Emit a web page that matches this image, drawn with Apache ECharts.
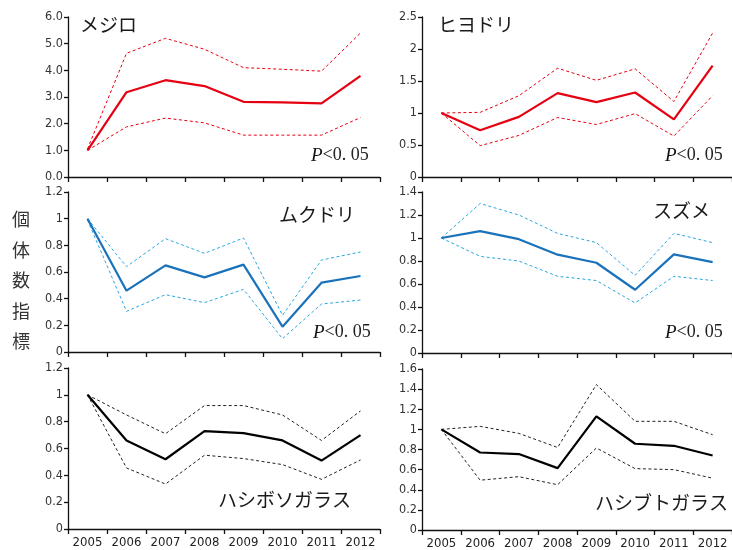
<!DOCTYPE html>
<html>
<head>
<meta charset="utf-8">
<script src="https://cdn.jsdelivr.net/npm/echarts@6/dist/echarts.min.js"></script>
<style>
  html, body { margin: 0; padding: 0; background: #fff; }
  #chart { width: 732px; height: 550px; }
</style>
</head>
<body>
<div id="chart"></div>
<script>
// Survey years
const years = ['2005', '2006', '2007', '2008', '2009', '2010', '2011', '2012'];

// メジロ: index with upper / lower confidence bounds
const mejiroMean  = [1.0, 3.18, 3.63, 3.41, 2.82, 2.80, 2.76, 3.79];
const mejiroUpper = [1.05, 4.64, 5.20, 4.79, 4.10, 4.04, 3.97, 5.40];
const mejiroLower = [1.0, 1.88, 2.21, 2.03, 1.57, 1.57, 1.57, 2.23];

// ヒヨドリ
const hiyodoriMean  = [1.0, 0.73, 0.94, 1.31, 1.17, 1.32, 0.90, 1.74];
const hiyodoriUpper = [1.0, 1.01, 1.27, 1.70, 1.51, 1.69, 1.18, 2.25];
const hiyodoriLower = [1.0, 0.49, 0.65, 0.93, 0.82, 0.99, 0.64, 1.27];

// ムクドリ
const mukudoriMean  = [1.0, 0.46, 0.65, 0.56, 0.655, 0.19, 0.52, 0.57];
const mukudoriUpper = [1.0, 0.64, 0.85, 0.74, 0.855, 0.275, 0.69, 0.75];
const mukudoriLower = [0.99, 0.305, 0.43, 0.37, 0.47, 0.10, 0.36, 0.39];

// スズメ
const suzumeMean  = [1.0, 1.06, 0.99, 0.855, 0.785, 0.55, 0.858, 0.79];
const suzumeUpper = [1.0, 1.30, 1.20, 1.04, 0.96, 0.675, 1.04, 0.96];
const suzumeLower = [1.0, 0.84, 0.80, 0.667, 0.63, 0.435, 0.667, 0.63];

// ハシボソガラス
const hashibosoMean  = [1.0, 0.66, 0.52, 0.73, 0.715, 0.66, 0.51, 0.70];
const hashibosoUpper = [1.0, 0.85, 0.71, 0.92, 0.92, 0.85, 0.66, 0.88];
const hashibosoLower = [1.0, 0.455, 0.335, 0.55, 0.525, 0.48, 0.37, 0.515];

// ハシブトガラス
const hashibutoMean  = [1.0, 0.77, 0.755, 0.615, 1.13, 0.857, 0.837, 0.74];
const hashibutoUpper = [1.0, 1.03, 0.96, 0.82, 1.445, 1.08, 1.08, 0.947];
const hashibutoLower = [1.0, 0.495, 0.53, 0.45, 0.815, 0.61, 0.60, 0.515];

// Y axis ranges per panel: [max, interval]
const yRanges = [[6, 1], [2.5, 0.5], [1.2, 0.2], [1.4, 0.2], [1.2, 0.2], [1.6, 0.2]];

const RED = '#e60012', BLUE = '#1a72bb', LIGHTBLUE = '#2aa8e0', BLACK = '#000000';

const panels = [
  { name: 'メジロ',       mean: mejiroMean,    upper: mejiroUpper,    lower: mejiroLower,    color: RED,   band: RED },
  { name: 'ヒヨドリ',     mean: hiyodoriMean,  upper: hiyodoriUpper,  lower: hiyodoriLower,  color: RED,   band: RED },
  { name: 'ムクドリ',     mean: mukudoriMean,  upper: mukudoriUpper,  lower: mukudoriLower,  color: BLUE,  band: LIGHTBLUE },
  { name: 'スズメ',       mean: suzumeMean,    upper: suzumeUpper,    lower: suzumeLower,    color: BLUE,  band: LIGHTBLUE },
  { name: 'ハシボソガラス', mean: hashibosoMean, upper: hashibosoUpper, lower: hashibosoLower, color: BLACK, band: '#222' },
  { name: 'ハシブトガラス', mean: hashibutoMean, upper: hashibutoUpper, lower: hashibutoLower, color: BLACK, band: '#222' }
];

// Grid placement (left column / right column, three rows)
const gridBoxes = [
  { left: 68,  top: 17,  width: 312, height: 160 },
  { left: 422, top: 17,  width: 318, height: 160 },
  { left: 68,  top: 192, width: 312, height: 160 },
  { left: 422, top: 192, width: 318, height: 161 },
  { left: 68,  top: 368, width: 312, height: 161 },
  { left: 422, top: 369, width: 318, height: 161 }
];

const NARROW = '"DejaVu Sans Condensed", "Liberation Sans Narrow", "Liberation Sans", sans-serif';
const JP = '"Noto Sans CJK JP", "Noto Sans", sans-serif';
const SERIF = '"Liberation Serif", "DejaVu Serif", serif';
const axisLine = { show: true, lineStyle: { color: '#111', width: 1.3 } };

const grids = [], xAxes = [], yAxes = [], series = [];
panels.forEach((p, i) => {
  grids.push(Object.assign({ containLabel: false }, gridBoxes[i]));
  const bottomRow = i >= 4;
  xAxes.push({
    type: 'category', gridIndex: i, data: years, boundaryGap: true,
    axisLine: axisLine,
    axisTick: { show: true, length: 5, lineStyle: { color: '#111', width: 1.3 } },
    axisLabel: { show: bottomRow, fontFamily: NARROW, fontSize: 13, color: '#222', margin: 7 },
    splitLine: { show: false }
  });
  const [max, interval] = yRanges[i];
  yAxes.push({
    type: 'value', gridIndex: i, min: 0, max: max, interval: interval,
    axisLine: axisLine,
    axisTick: { show: true, length: 4, lineStyle: { color: '#111', width: 1.3 } },
    axisLabel: {
      fontFamily: NARROW, fontSize: 12.5, color: '#333', margin: 5,
      formatter: i === 0 ? (v => v.toFixed(1)) : (v => String(+v.toFixed(2)))
    },
    splitLine: { show: false }
  });
  [['upper', p.upper], ['lower', p.lower]].forEach(([k, arr]) => {
    series.push({
      type: 'line', name: p.name + k, xAxisIndex: i, yAxisIndex: i, data: arr,
      symbol: 'none', silent: true,
      lineStyle: { color: p.band, width: 1, type: [3, 2.5] }
    });
  });
  series.push({
    type: 'line', name: p.name, xAxisIndex: i, yAxisIndex: i, data: p.mean,
    symbol: 'none', silent: true, z: 3,
    lineStyle: { color: p.color, width: 2.2 }
  });
});

// Species names and significance notes
const nameLabels = [
  { text: 'メジロ',       x: 80,  y: 27 },
  { text: 'ヒヨドリ',     x: 438, y: 27 },
  { text: 'ムクドリ',     x: 279, y: 217 },
  { text: 'スズメ',       x: 653, y: 213 },
  { text: 'ハシボソガラス', x: 218, y: 502 },
  { text: 'ハシブトガラス', x: 595, y: 505 }
];
const pNotes = [
  { x: 311, y: 157 }, { x: 665, y: 157 }, { x: 313, y: 334 }, { x: 665, y: 334 }
];

const graphic = [];
nameLabels.forEach(l => graphic.push({
  type: 'text', left: l.x, top: l.y - 12,
  style: { text: l.text, font: '19px ' + JP, fill: '#1a1a1a' }
}));
pNotes.forEach(n => graphic.push({
  type: 'text', left: n.x, top: n.y - 11,
  style: {
    text: '{p|P}{r|<0. 05}',
    rich: {
      p: { fontFamily: SERIF, fontStyle: 'italic', fontSize: 19, fill: '#111' },
      r: { fontFamily: SERIF, fontSize: 18, fill: '#222' }
    }
  }
}));
// Vertical axis title
graphic.push({
  type: 'text', left: 12, top: 204,
  style: {
    text: '個\n体\n数\n指\n標', font: '18px ' + JP, fill: '#333',
    lineHeight: 30.5, align: 'left'
  }
});

const chart = echarts.init(document.getElementById('chart'), null, { renderer: 'canvas' });
chart.setOption({
  animation: false,
  backgroundColor: '#fff',
  grid: grids, xAxis: xAxes, yAxis: yAxes, series: series, graphic: graphic
});
</script>
</body>
</html>
